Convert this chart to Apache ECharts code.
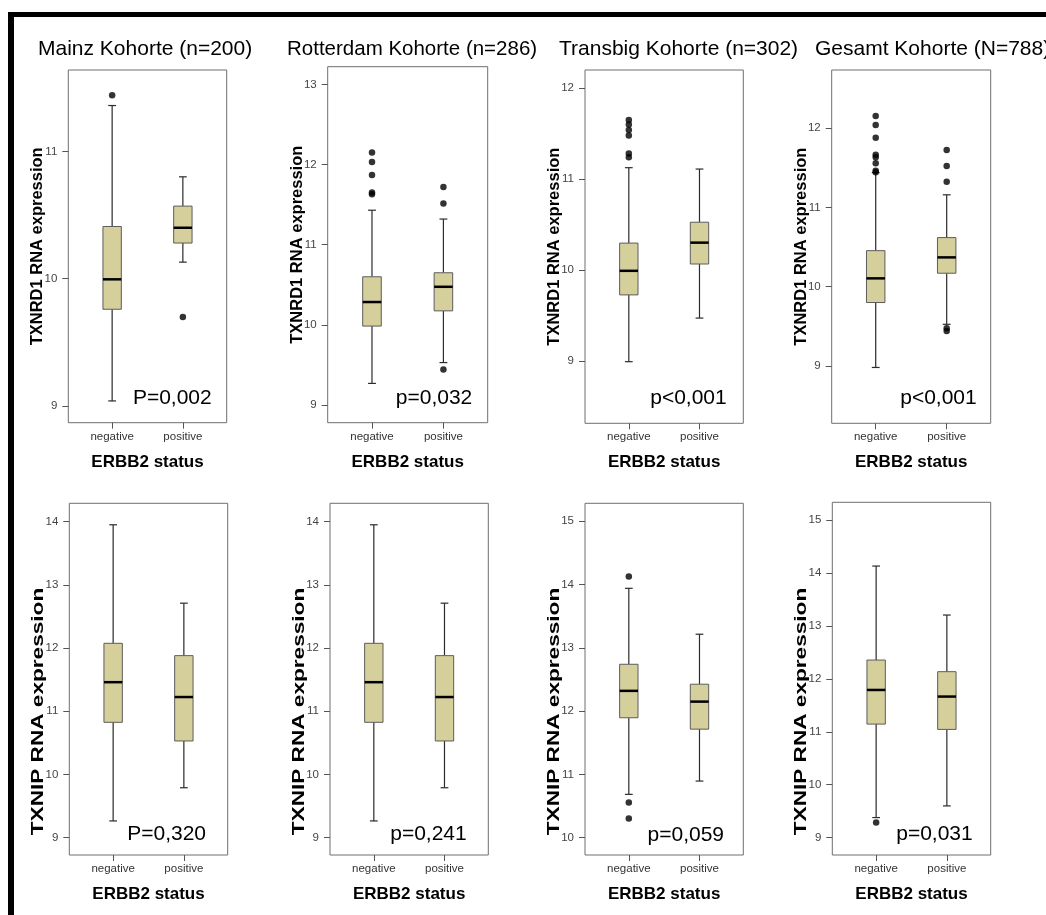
<!DOCTYPE html>
<html><head><meta charset="utf-8">
<script src="https://cdn.jsdelivr.net/npm/echarts@6/dist/echarts.min.js"></script>
<style>html,body{margin:0;padding:0;background:#fff}#c{width:1046px;height:915px}</style>
</head><body><div id="c"></div>
<script>
// ---------- DATA ----------
const categories = ['negative', 'positive'];
const catPos = [1, 2];
const panelTitles = ['Mainz Kohorte (n=200)', 'Rotterdam Kohorte (n=286)', 'Transbig Kohorte (n=302)', 'Gesamt Kohorte (N=788)'];
const yTitleTop = 'TXNRD1 RNA expression';
const yTitleBottom = 'TXNIP RNA expression';
const xTitle = 'ERBB2 status';
const pValues = ['P=0,002', 'p=0,032', 'p<0,001', 'p<0,001', 'P=0,320', 'p=0,241', 'p=0,059', 'p=0,031'];

// box stats: [min whisker, Q1, median, Q3, max whisker]
const mainzTXNRD1Neg = [9.04, 9.76, 9.995, 10.41, 11.36];
const mainzTXNRD1Pos = [10.13, 10.28, 10.40, 10.57, 10.80];
const mainzTXNRD1NegOut = [11.44];
const mainzTXNRD1PosOut = [9.70];

const rotterdamTXNRD1Neg = [9.27, 9.985, 10.285, 10.60, 11.43];
const rotterdamTXNRD1Pos = [9.53, 10.175, 10.475, 10.65, 11.32];
const rotterdamTXNRD1NegOut = [12.15, 12.03, 11.87, 11.65, 11.63];
const rotterdamTXNRD1PosOut = [11.72, 11.515, 9.445];

const transbigTXNRD1Neg = [8.99, 9.725, 9.99, 10.295, 11.125];
const transbigTXNRD1Pos = [9.47, 10.065, 10.30, 10.525, 11.11];
const transbigTXNRD1NegOut = [11.65, 11.60, 11.54, 11.48, 11.28, 11.24];
const transbigTXNRD1PosOut = [];

const gesamtTXNRD1Neg = [8.98, 9.80, 10.105, 10.455, 11.44];
const gesamtTXNRD1Pos = [9.525, 10.17, 10.37, 10.62, 11.16];
const gesamtTXNRD1NegOut = [12.155, 12.04, 11.88, 11.665, 11.635, 11.56, 11.465, 11.445];
const gesamtTXNRD1PosOut = [11.725, 11.525, 11.325, 9.475, 9.44];

const mainzTXNIPNeg = [9.265, 10.825, 11.46, 12.075, 13.95];
const mainzTXNIPPos = [9.79, 10.53, 11.225, 11.88, 12.71];
const rotterdamTXNIPNeg = [9.265, 10.825, 11.46, 12.075, 13.95];
const rotterdamTXNIPPos = [9.79, 10.53, 11.225, 11.88, 12.71];
const transbigTXNIPNeg = [10.685, 11.895, 12.32, 12.74, 13.94];
const transbigTXNIPPos = [10.895, 11.715, 12.15, 12.425, 13.215];
const transbigTXNIPNegOut = [14.125, 10.555, 10.305];
const gesamtTXNIPNeg = [9.38, 11.145, 11.79, 12.355, 14.13];
const gesamtTXNIPPos = [9.60, 11.045, 11.665, 12.135, 13.205];
const gesamtTXNIPNegOut = [9.285];

// y-axis tick labels per panel
const yTicks1 = [9, 10, 11];
const yTicks2 = [9, 10, 11, 12, 13];
const yTicks3 = [9, 10, 11, 12];
const yTicks4 = [9, 10, 11, 12];
const yTicks5 = [9, 10, 11, 12, 13, 14];
const yTicks6 = [9, 10, 11, 12, 13, 14];
const yTicks7 = [10, 11, 12, 13, 14, 15];
const yTicks8 = [9, 10, 11, 12, 13, 14, 15];

// ---------- PANELS ----------
const panels = [
  {neg: mainzTXNRD1Neg, pos: mainzTXNRD1Pos, negOut: mainzTXNRD1NegOut, posOut: mainzTXNRD1PosOut, ticks: yTicks1, row: 0},
  {neg: rotterdamTXNRD1Neg, pos: rotterdamTXNRD1Pos, negOut: rotterdamTXNRD1NegOut, posOut: rotterdamTXNRD1PosOut, ticks: yTicks2, row: 0},
  {neg: transbigTXNRD1Neg, pos: transbigTXNRD1Pos, negOut: transbigTXNRD1NegOut, posOut: transbigTXNRD1PosOut, ticks: yTicks3, row: 0},
  {neg: gesamtTXNRD1Neg, pos: gesamtTXNRD1Pos, negOut: gesamtTXNRD1NegOut, posOut: gesamtTXNRD1PosOut, ticks: yTicks4, row: 0},
  {neg: mainzTXNIPNeg, pos: mainzTXNIPPos, negOut: [], posOut: [], ticks: yTicks5, row: 1},
  {neg: rotterdamTXNIPNeg, pos: rotterdamTXNIPPos, negOut: [], posOut: [], ticks: yTicks6, row: 1},
  {neg: transbigTXNIPNeg, pos: transbigTXNIPPos, negOut: transbigTXNIPNegOut, posOut: [], ticks: yTicks7, row: 1},
  {neg: gesamtTXNIPNeg, pos: gesamtTXNIPPos, negOut: gesamtTXNIPNegOut, posOut: [], ticks: yTicks8, row: 1}
];

// layout (pixels) and axis ranges
const layout = [
  {left: 68.3, top: 70, width: 158.4, height: 352.7, ymin: 8.869, ymax: 11.639},
  {left: 327.7, top: 66.7, width: 160, height: 356, ymin: 8.78, ymax: 13.22},
  {left: 585, top: 70, width: 158.3, height: 353.3, ymin: 8.312, ymax: 12.20},
  {left: 831.7, top: 70, width: 159, height: 353.3, ymin: 8.275, ymax: 12.736},
  {left: 69.3, top: 503.3, width: 158.4, height: 351.7, ymin: 8.726, ymax: 14.29},
  {left: 330, top: 503.3, width: 158.3, height: 351.7, ymin: 8.726, ymax: 14.29},
  {left: 585, top: 503.3, width: 158.3, height: 351.7, ymin: 9.727, ymax: 15.283},
  {left: 832.3, top: 502.3, width: 158.4, height: 352.7, ymin: 8.673, ymax: 15.334}
];
const titlePos = [{x: 38, y: 49, size: 21}, {x: 287, y: 49, size: 20.5}, {x: 559, y: 49, size: 21}, {x: 815, y: 49, size: 21}];
const pPos = [
  {x: 211.7, y: 398.5}, {x: 472.3, y: 398.5}, {x: 726.7, y: 398.5}, {x: 976.7, y: 398.5},
  {x: 206, y: 834}, {x: 466.7, y: 834}, {x: 724, y: 835}, {x: 972.7, y: 834}
];
const bottomYTitleCenterY = 711.5;

const FONT = '"Liberation Sans", Arial, sans-serif';
const BOX_HALF = 0.13, CAP_HALF = 0.055;

function renderBox(params, api) {
  const x = api.value(0);
  const lo = api.value(1), q1 = api.value(2), med = api.value(3), q3 = api.value(4), hi = api.value(5);
  const pLo = api.coord([x, lo]), pHi = api.coord([x, hi]);
  const pQ1 = api.coord([x, q1]), pQ3 = api.coord([x, q3]);
  const capLoL = api.coord([x - CAP_HALF, lo]), capLoR = api.coord([x + CAP_HALF, lo]);
  const capHiL = api.coord([x - CAP_HALF, hi]), capHiR = api.coord([x + CAP_HALF, hi]);
  const bTL = api.coord([x - BOX_HALF, q3]), bBR = api.coord([x + BOX_HALF, q1]);
  const mL = api.coord([x - BOX_HALF, med]), mR = api.coord([x + BOX_HALF, med]);
  const ws = {stroke: '#2b2b2b', lineWidth: 1.2};
  return {type: 'group', children: [
    {type: 'line', shape: {x1: pLo[0], y1: pLo[1], x2: pQ1[0], y2: pQ1[1]}, style: ws},
    {type: 'line', shape: {x1: pHi[0], y1: pHi[1], x2: pQ3[0], y2: pQ3[1]}, style: ws},
    {type: 'line', shape: {x1: capLoL[0], y1: capLoL[1], x2: capLoR[0], y2: capLoR[1]}, style: ws},
    {type: 'line', shape: {x1: capHiL[0], y1: capHiL[1], x2: capHiR[0], y2: capHiR[1]}, style: ws},
    {type: 'rect', shape: {x: bTL[0], y: bTL[1], width: bBR[0] - bTL[0], height: bBR[1] - bTL[1]},
      style: {fill: '#d5cf9b', stroke: '#5c5c5c', lineWidth: 1}},
    {type: 'line', shape: {x1: mL[0], y1: mL[1], x2: mR[0], y2: mR[1]}, style: {stroke: '#000', lineWidth: 2.5}}
  ]};
}

const grid = [], xAxis = [], yAxis = [], series = [];
panels.forEach((p, i) => {
  const L = layout[i];
  grid.push({left: L.left, top: L.top, width: L.width, height: L.height, show: true,
    borderColor: '#6e6e6e', borderWidth: 1, backgroundColor: '#fff', containLabel: false});
  xAxis.push({
    type: 'value', gridIndex: i, min: 0.38, max: 2.62,
    name: xTitle, nameLocation: 'middle', nameGap: 31, nameMoveOverlap: false,
    nameTextStyle: {fontFamily: FONT, fontWeight: 'bold', fontSize: 17, color: '#000'},
    axisLine: {show: false}, splitLine: {show: false},
    axisTick: {show: true, customValues: catPos, length: 6, inside: false, lineStyle: {color: '#555'}},
    axisLabel: {show: true, customValues: catPos, margin: 8, fontFamily: FONT, fontSize: 11.5, color: '#333',
      formatter: v => categories[catPos.indexOf(Math.round(v))] || ''}
  });
  yAxis.push({
    type: 'value', gridIndex: i, min: L.ymin, max: L.ymax,
    name: p.row === 0 ? yTitleTop : '', nameLocation: 'middle', nameGap: 22, nameMoveOverlap: false,
    nameTextStyle: {fontFamily: FONT, fontWeight: 'bold', fontSize: 16.5, color: '#000'},
    axisLine: {show: false}, splitLine: {show: false},
    axisTick: {show: true, customValues: p.ticks, length: 6, lineStyle: {color: '#555'}},
    axisLabel: {show: true, customValues: p.ticks, margin: 11, fontFamily: FONT, fontSize: 11.5, color: '#444'}
  });
  series.push({
    type: 'custom', xAxisIndex: i, yAxisIndex: i, renderItem: renderBox,
    encode: {x: 0, y: [1, 2, 3, 4, 5]},
    data: [[catPos[0]].concat(p.neg), [catPos[1]].concat(p.pos)], silent: true
  });
  const outs = p.negOut.map(v => [catPos[0], v]).concat(p.posOut.map(v => [catPos[1], v]));
  series.push({
    type: 'scatter', xAxisIndex: i, yAxisIndex: i, data: outs, symbol: 'circle', symbolSize: 6.5,
    itemStyle: {color: '#000'}, silent: true, z: 5
  });
});

const graphic = [
  {type: 'rect', shape: {x: 8, y: 12, width: 1046, height: 5}, style: {fill: '#000'}},
  {type: 'rect', shape: {x: 8, y: 12, width: 6, height: 910}, style: {fill: '#000'}}
];
panelTitles.forEach((t, i) => graphic.push({type: 'text', x: titlePos[i].x, y: titlePos[i].y,
  style: {text: t, font: titlePos[i].size + 'px ' + FONT, fill: '#000', textAlign: 'left', textVerticalAlign: 'middle'}}));
pValues.forEach((t, i) => graphic.push({type: 'text', x: pPos[i].x, y: pPos[i].y, z: 10,
  style: {text: t, font: '21px ' + FONT, fill: '#000', textAlign: 'right', textVerticalAlign: 'middle'}}));
// bottom-row y titles (stretched lengthwise, as in the original figure)
layout.slice(4).forEach(L => graphic.push({type: 'text', x: L.left - 31, y: bottomYTitleCenterY,
  rotation: Math.PI / 2, scaleX: 1.37, scaleY: 1,
  style: {text: yTitleBottom, font: 'bold 16.5px ' + FONT, fill: '#000', textAlign: 'center', textVerticalAlign: 'middle'}}));

const chart = echarts.init(document.getElementById('c'), null, {renderer: 'canvas'});
chart.setOption({animation: false, backgroundColor: '#fff', grid, xAxis, yAxis, series, graphic});
</script></body></html>
